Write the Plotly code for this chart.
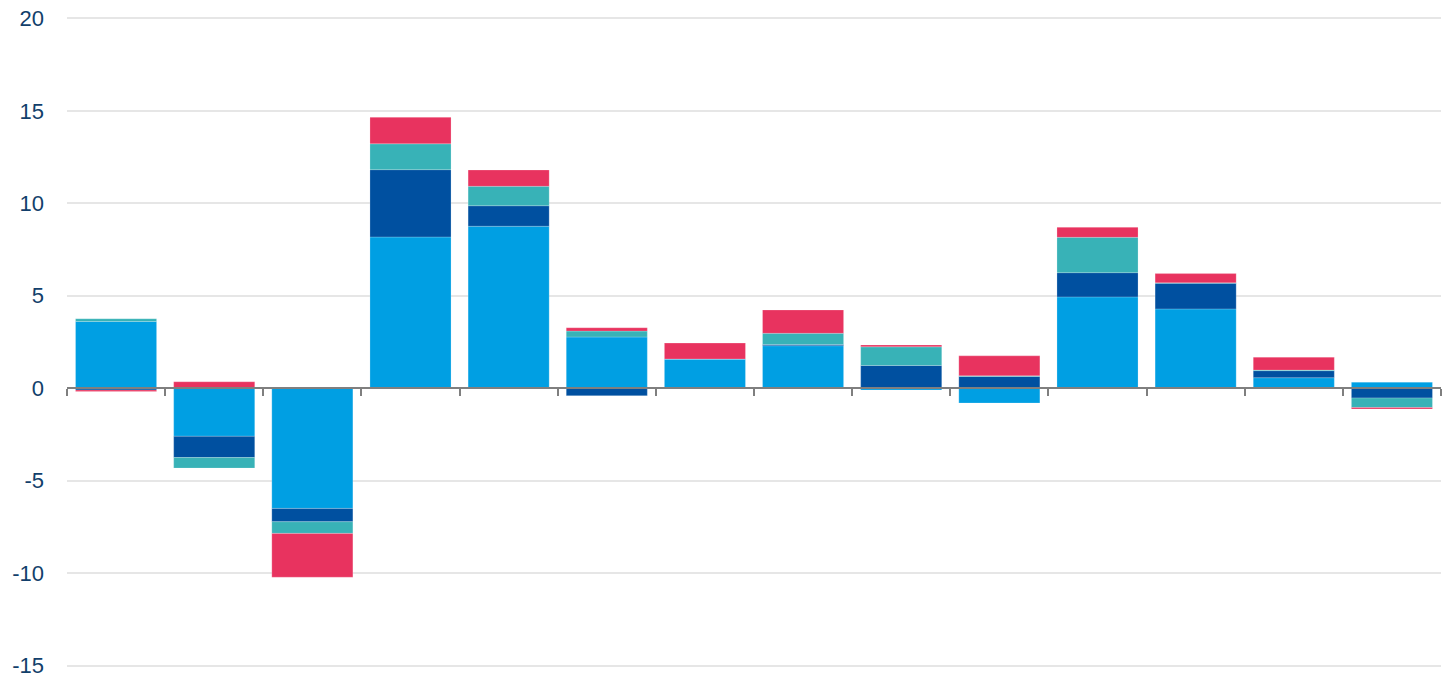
import plotly.graph_objects as go

categories = [str(i) for i in range(1, 15)]

series_names = ["Series A", "Series B", "Series C", "Series D"]
light_blue = [3.61, -2.60, -6.50, 8.18, 8.76, 2.77, 1.58, 2.30, -0.10, -0.80, 4.94, 4.29, 0.57, 0.33]
dark_blue = [-0.10, -1.15, -0.72, 3.64, 1.11, -0.40, 0.00, 0.06, 1.23, 0.64, 1.31, 1.39, 0.38, -0.53]
teal = [0.15, -0.57, -0.63, 1.40, 1.05, 0.32, 0.00, 0.61, 1.01, 0.03, 1.91, 0.02, 0.03, -0.51]
red = [-0.08, 0.35, -2.37, 1.43, 0.88, 0.18, 0.86, 1.26, 0.10, 1.08, 0.54, 0.50, 0.70, -0.08]

colors = ["#009FE3", "#0050A0", "#38B2B7", "#E8335F"]
values = [light_blue, dark_blue, teal, red]

y_ticks = [-15, -10, -5, 0, 5, 10, 15, 20]
y_min, y_max = -15.4, 20.4

fig = go.Figure()
for name, vals, col in zip(series_names, values, colors):
    fig.add_trace(go.Bar(
        x=categories, y=vals, name=name,
        marker=dict(color=col, line=dict(color="rgba(255,255,255,0.35)", width=0.6)),
    ))

fig.update_layout(
    barmode="relative",
    bargap=0.174,
    width=1447, height=677,
    margin=dict(l=67, r=6, t=10.6, b=3.6, pad=0, autoexpand=False),
    paper_bgcolor="white", plot_bgcolor="white",
    showlegend=False,
    font=dict(family="Liberation Sans, Arial, sans-serif", size=22, color="#123F6B"),
    xaxis=dict(
        type="category",
        tickson="boundaries",
        showticklabels=False,
        ticks="outside", ticklen=7, tickwidth=2, tickcolor="#7F7F7F",
        showline=True, linecolor="#7F7F7F", linewidth=2,
        showgrid=False, automargin=False,
        anchor="free", position=(0 - y_min) / (y_max - y_min),
    ),
    yaxis=dict(
        range=[y_min, y_max],
        tickvals=y_ticks,
        ticktext=[str(v) for v in y_ticks],
        showgrid=True, gridcolor="#E6E6E6", gridwidth=1.5,
        zeroline=False, automargin=False,
        ticks="", ticklabelstandoff=22,
        ticklabeloverflow="allow",
        tickfont=dict(size=22, color="#123F6B"),
    ),
)

fig.write_html(
    "out.html",
    config={"displayModeBar": False},
    post_script="document.body.style.margin='0';document.body.style.overflow='hidden';",
)
